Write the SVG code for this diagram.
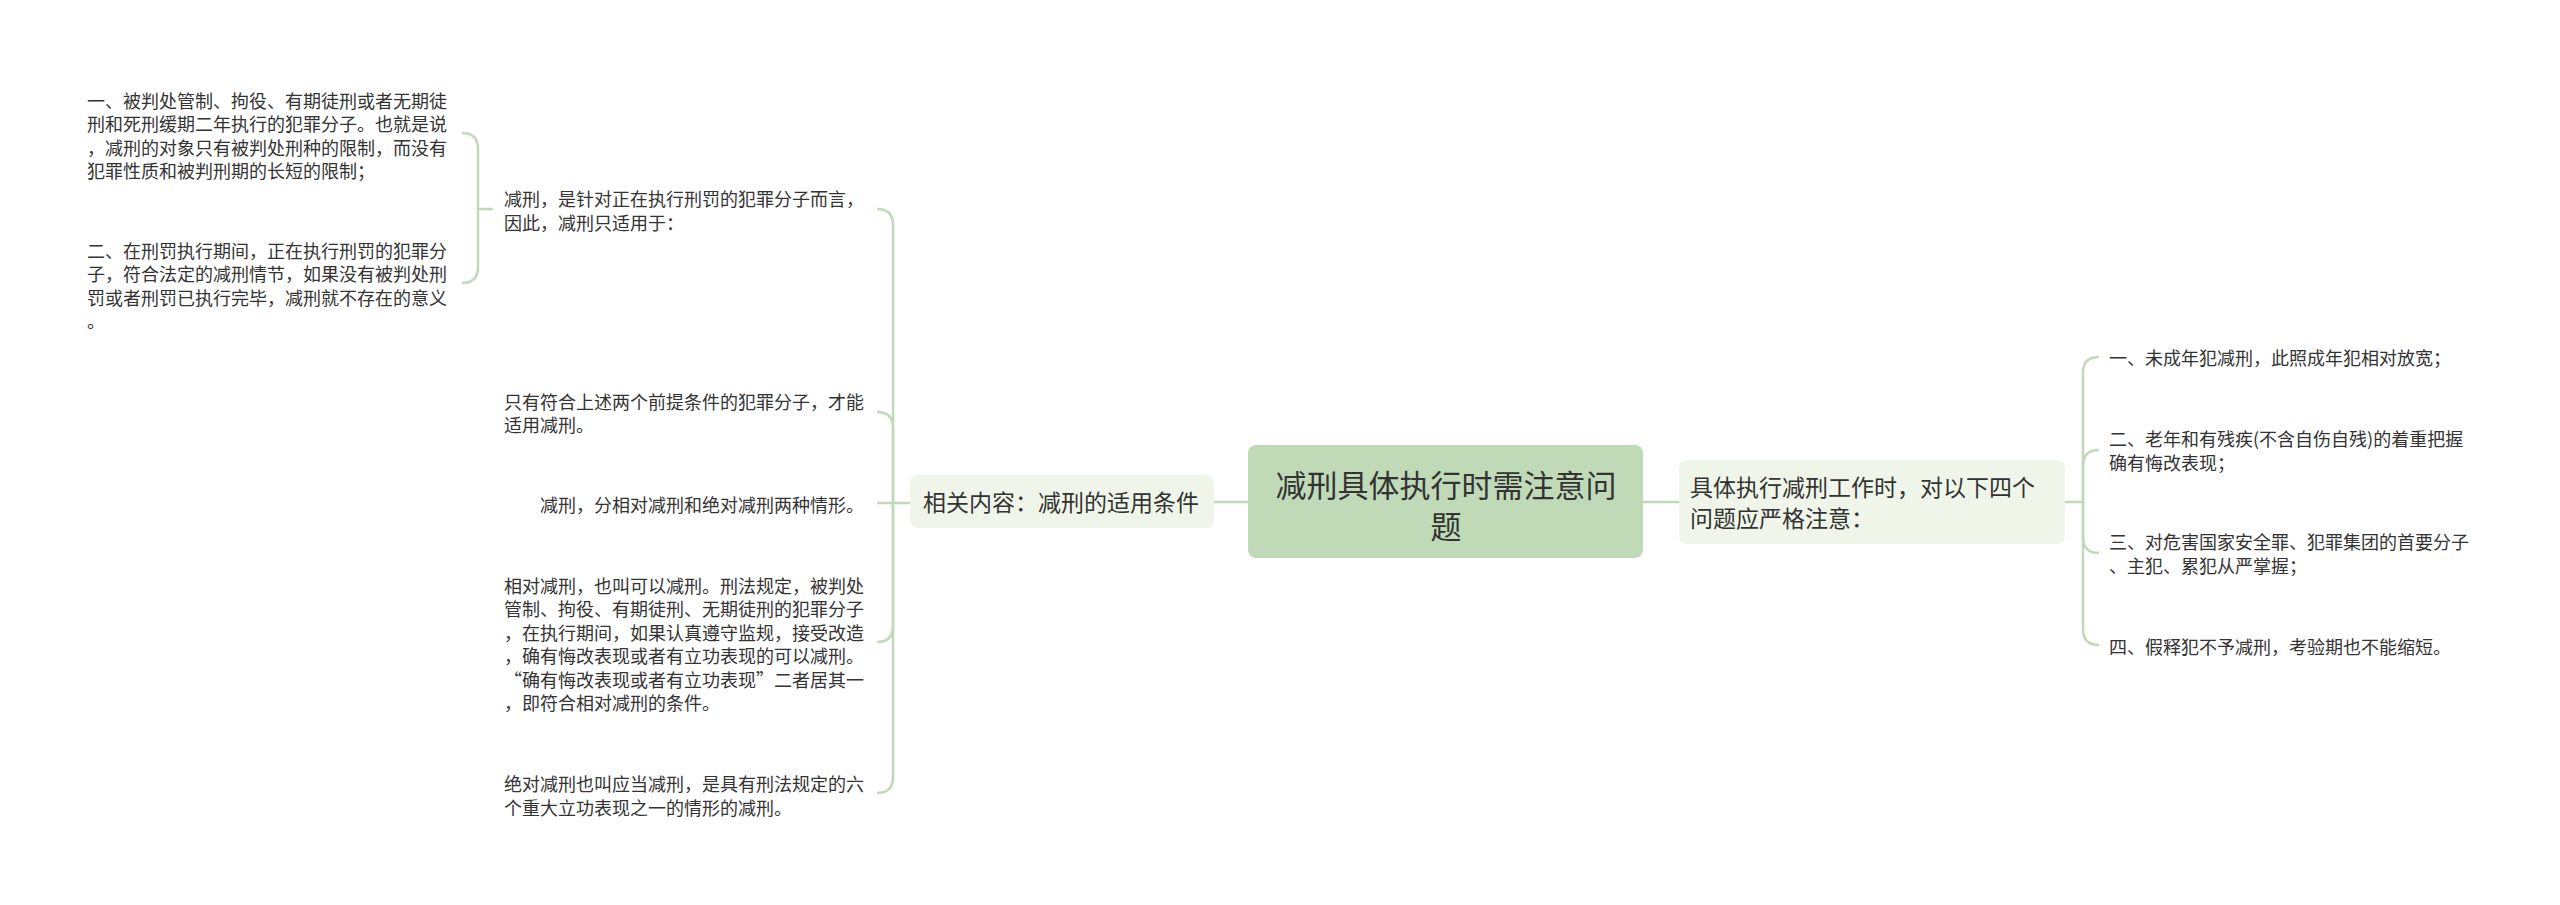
<svg xmlns="http://www.w3.org/2000/svg" width="2560" height="905" viewBox="0 0 2560 905">
<style>
text{font-family:"Noto Sans CJK SC","Noto Sans",sans-serif;fill:#333;dominant-baseline:central}
.leaf{font-size:18px}
.mid{font-size:23px}
.root{font-size:31px;text-anchor:middle}
.ln{fill:none;stroke:#c0d9b8;stroke-width:2.5}
</style>
<rect width="2560" height="905" fill="#ffffff"/>
<g id="connectors">
<path class="ln" d="M1214 502 H1248"/>
<path class="ln" d="M1643 502 H1679"/>
<path class="ln" d="M910 503 H893"/>
<path class="ln" d="M893 503 V225 Q893 209 877 209"/>
<path class="ln" d="M893 503 V428 Q893 412 877 412"/>
<path class="ln" d="M893 503 H877"/>
<path class="ln" d="M893 503 V626 Q893 642 877 642"/>
<path class="ln" d="M893 503 V777 Q893 793 877 793"/>
<path class="ln" d="M493 209 H478"/>
<path class="ln" d="M478 209 V149 Q478 133 462 133"/>
<path class="ln" d="M478 209 V267 Q478 283 462 283"/>
<path class="ln" d="M2065 502 H2083"/>
<path class="ln" d="M2083 502 V373 Q2083 357 2099 357"/>
<path class="ln" d="M2083 502 V466 Q2083 450 2099 450"/>
<path class="ln" d="M2083 502 V537 Q2083 553 2099 553"/>
<path class="ln" d="M2083 502 V629 Q2083 645 2099 645"/>
</g>
<g id="root">
<rect x="1248" y="445" width="395" height="113" rx="8" fill="#c0dab8"/>
<text class="root" x="1446" y="483">减刑具体执行时需注意问</text>
<text class="root" x="1446" y="524">题</text>
</g>
<g id="n-related">
<rect x="910" y="475" width="304" height="53" rx="8" fill="#eff6e9"/>
<text class="mid" x="923" y="501">相关内容：减刑的适用条件</text>
</g>
<g id="n-attention">
<rect x="1679" y="460" width="386" height="84" rx="8" fill="#eff6e9"/>
<text class="mid" x="1690" y="486">具体执行减刑工作时，对以下四个</text>
<text class="mid" x="1690" y="517">问题应严格注意：</text>
</g>
<g id="n-apply">
<text class="leaf" x="504" y="198">减刑，是针对正在执行刑罚的犯罪分子而言，</text>
<text class="leaf" x="504" y="222">因此，减刑只适用于：</text>
</g>
<g id="n-cond1">
<text class="leaf" x="87" y="100">一、被判处管制、拘役、有期徒刑或者无期徒</text>
<text class="leaf" x="87" y="123">刑和死刑缓期二年执行的犯罪分子。也就是说</text>
<text class="leaf" x="87" y="147">，减刑的对象只有被判处刑种的限制，而没有</text>
<text class="leaf" x="87" y="170">犯罪性质和被判刑期的长短的限制；</text>
</g>
<g id="n-cond2">
<text class="leaf" x="87" y="250">二、在刑罚执行期间，正在执行刑罚的犯罪分</text>
<text class="leaf" x="87" y="273">子，符合法定的减刑情节，如果没有被判处刑</text>
<text class="leaf" x="87" y="297">罚或者刑罚已执行完毕，减刑就不存在的意义</text>
<text class="leaf" x="87" y="320">。</text>
</g>
<g id="n-only">
<text class="leaf" x="504" y="401">只有符合上述两个前提条件的犯罪分子，才能</text>
<text class="leaf" x="504" y="424">适用减刑。</text>
</g>
<g id="n-types">
<text class="leaf" x="540" y="504">减刑，分相对减刑和绝对减刑两种情形。</text>
</g>
<g id="n-relative">
<text class="leaf" x="504" y="585">相对减刑，也叫可以减刑。刑法规定，被判处</text>
<text class="leaf" x="504" y="608">管制、拘役、有期徒刑、无期徒刑的犯罪分子</text>
<text class="leaf" x="504" y="632">，在执行期间，如果认真遵守监规，接受改造</text>
<text class="leaf" x="504" y="655">，确有悔改表现或者有立功表现的可以减刑。</text>
<text class="leaf" x="504" y="679">“确有悔改表现或者有立功表现”二者居其一</text>
<text class="leaf" x="504" y="702">，即符合相对减刑的条件。</text>
</g>
<g id="n-absolute">
<text class="leaf" x="504" y="783">绝对减刑也叫应当减刑，是具有刑法规定的六</text>
<text class="leaf" x="504" y="807">个重大立功表现之一的情形的减刑。</text>
</g>
<g id="n-r1">
<text class="leaf" x="2109" y="357">一、未成年犯减刑，此照成年犯相对放宽；</text>
</g>
<g id="n-r2">
<text class="leaf" x="2109" y="438">二、老年和有残疾(不含自伤自残)的着重把握</text>
<text class="leaf" x="2109" y="462">确有悔改表现；</text>
</g>
<g id="n-r3">
<text class="leaf" x="2109" y="541">三、对危害国家安全罪、犯罪集团的首要分子</text>
<text class="leaf" x="2109" y="565">、主犯、累犯从严掌握；</text>
</g>
<g id="n-r4">
<text class="leaf" x="2109" y="646">四、假释犯不予减刑，考验期也不能缩短。</text>
</g>
</svg>
